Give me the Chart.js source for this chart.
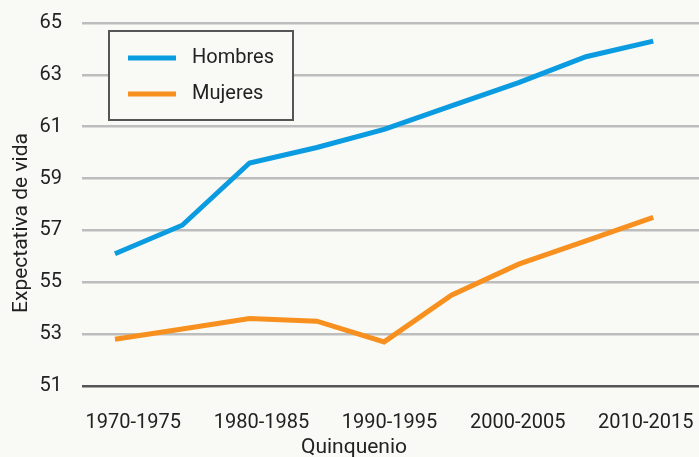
<!DOCTYPE html>
<html>
<head>
<meta charset="utf-8">
<script src="https://cdn.jsdelivr.net/npm/chart.js@4.4.0/dist/chart.umd.min.js"></script>
<style>
  html, body { margin: 0; padding: 0; background: #f9faf5; }
  #wrap { width: 699px; height: 457px; }
</style>
</head>
<body>
<div id="wrap"><canvas id="lifeChart"></canvas></div>
<script>
// Expectativa de vida por quinquenio
const quinquenios = ['1970-1975', '1975-1980', '1980-1985', '1985-1990', '1990-1995',
                     '1995-2000', '2000-2005', '2005-2010', '2010-2015'];
const hombres = [56.1, 57.2, 59.6, 60.2, 60.9, 61.8, 62.7, 63.7, 64.3];
const mujeres = [52.8, 53.2, 53.6, 53.5, 52.7, 54.5, 55.7, 56.6, 57.5];
const yTicks = [51, 53, 55, 57, 59, 61, 63, 65];
const xTickIdx = [0, 2, 4, 6, 8];
const xTitle = 'Quinquenio';
const yTitle = 'Expectativa de vida';

const FONT = "Roboto, 'DejaVu Sans Condensed', sans-serif";
const TEXT = '#222222';

// legend drawn as a framed box inside the plot
const boxLegend = {
    id: 'boxLegend',
    afterDraw(chart) {
        const ctx = chart.ctx;
        ctx.save();
        ctx.fillStyle = '#f9faf5';
        ctx.fillRect(109, 31, 184, 89);
        ctx.strokeStyle = '#555555';
        ctx.lineWidth = 2;
        ctx.strokeRect(109, 31, 184, 89);
        ctx.font = '20px ' + FONT;
        ctx.textBaseline = 'middle';
        chart.data.datasets.forEach((ds, i) => {
            const y = 58 + i * 36;
            ctx.strokeStyle = ds.borderColor;
            ctx.lineWidth = 5;
            ctx.beginPath();
            ctx.moveTo(128, y);
            ctx.lineTo(176, y);
            ctx.stroke();
            ctx.fillStyle = TEXT;
            ctx.fillText(ds.label, 192, y);
        });
        ctx.restore();
    }
};

// axis titles, placed where the original has them (not centred on the axes)
const axisTitles = {
    id: 'axisTitles',
    afterDraw(chart) {
        const ctx = chart.ctx;
        ctx.save();
        ctx.fillStyle = TEXT;
        ctx.font = '21px ' + FONT;
        ctx.textAlign = 'center';
        ctx.textBaseline = 'alphabetic';
        ctx.fillText(xTitle, 354, 453);
        ctx.translate(27, 223);
        ctx.rotate(-Math.PI / 2);
        ctx.fillText(yTitle, 0, 0);
        ctx.restore();
    }
};

// keep tick labels from shrinking the plot
function noPad(scale) {
    scale.paddingLeft = 0;
    scale.paddingRight = 0;
    scale.paddingTop = 0;
    scale.paddingBottom = 0;
}

const ctx = document.getElementById('lifeChart').getContext('2d');
new Chart(ctx, {
    type: 'line',
    data: {
        datasets: [{
            label: 'Hombres',
            data: hombres.map((v, i) => ({ x: i, y: v })),
            borderColor: '#0a9be0',
            borderWidth: 5,
            pointRadius: 0,
            tension: 0
        }, {
            label: 'Mujeres',
            data: mujeres.map((v, i) => ({ x: i, y: v })),
            borderColor: '#f7901e',
            borderWidth: 5,
            pointRadius: 0,
            tension: 0
        }]
    },
    options: {
        responsive: true,
        maintainAspectRatio: false,
        animation: false,
        layout: { autoPadding: false, padding: { top: 23, right: 0, bottom: 0, left: 0 } },
        plugins: {
            legend: { display: false },
            tooltip: { enabled: false }
        },
        scales: {
            // data axis
            x: {
                type: 'linear',
                display: false,
                min: -0.49,
                max: 8.68
            },
            // quinquenio labels, spaced a little tighter than the points
            xl: {
                type: 'linear',
                position: 'bottom',
                min: -0.8,
                max: 8.83,
                grid: { display: false },
                border: { display: false },
                afterBuildTicks: (scale) => { scale.ticks = xTickIdx.map(v => ({ value: v })); },
                afterFit: (scale) => { scale.height = 71; noPad(scale); },
                ticks: {
                    autoSkip: false,
                    maxRotation: 0,
                    padding: 17,
                    color: TEXT,
                    font: { family: FONT, size: 20 },
                    callback: (v) => quinquenios[v]
                }
            },
            y: {
                min: 51,
                max: 65,
                border: { display: false },
                grid: {
                    drawTicks: false,
                    lineWidth: 2.5,
                    color: (c) => c.tick && c.tick.value === 51 ? '#555555' : '#bdbdbd'
                },
                afterBuildTicks: (scale) => { scale.ticks = yTicks.map(v => ({ value: v })); },
                afterFit: (scale) => { scale.width = 82; noPad(scale); },
                ticks: {
                    padding: 20,
                    color: TEXT,
                    font: { family: FONT, size: 20 }
                }
            }
        }
    },
    plugins: [boxLegend, axisTitles]
});
</script>
</body>
</html>
